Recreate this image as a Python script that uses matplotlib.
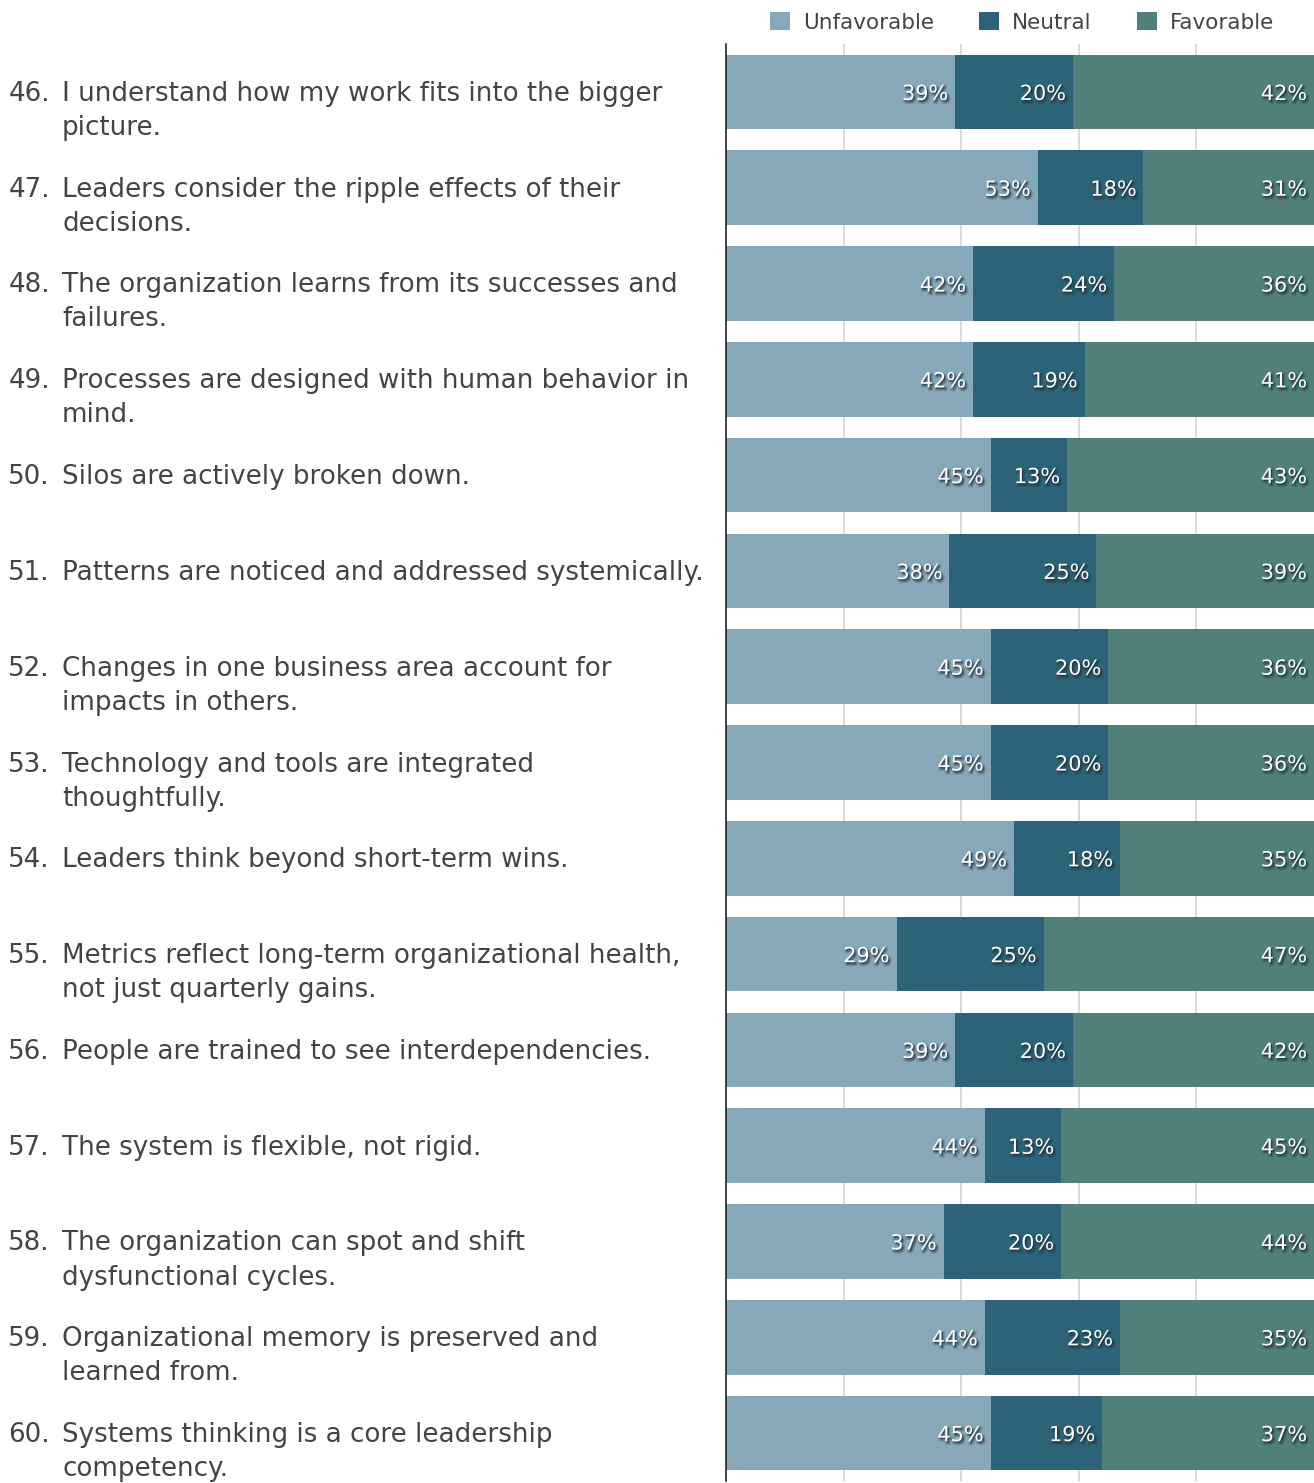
import matplotlib
matplotlib.use("Agg")
import matplotlib.pyplot as plt
import matplotlib.patheffects as pe
from matplotlib.transforms import blended_transform_factory
from matplotlib.patches import Patch

plt.rcParams['font.family'] = ['DejaVu Sans']

numbers = ["46.", "47.", "48.", "49.", "50.", "51.", "52.", "53.", "54.", "55.",
           "56.", "57.", "58.", "59.", "60."]
statements = [
    ["I understand how my work fits into the bigger", "picture."],
    ["Leaders consider the ripple effects of their", "decisions."],
    ["The organization learns from its successes and", "failures."],
    ["Processes are designed with human behavior in", "mind."],
    ["Silos are actively broken down."],
    ["Patterns are noticed and addressed systemically."],
    ["Changes in one business area account for", "impacts in others."],
    ["Technology and tools are integrated", "thoughtfully."],
    ["Leaders think beyond short-term wins."],
    ["Metrics reflect long-term organizational health,", "not just quarterly gains."],
    ["People are trained to see interdependencies."],
    ["The system is flexible, not rigid."],
    ["The organization can spot and shift", "dysfunctional cycles."],
    ["Organizational memory is preserved and", "learned from."],
    ["Systems thinking is a core leadership", "competency."],
]
unfavorable = [39, 53, 42, 42, 45, 38, 45, 45, 49, 29, 39, 44, 37, 44, 45]
neutral = [20, 18, 24, 19, 13, 25, 20, 20, 18, 25, 20, 13, 20, 23, 19]
favorable = [42, 31, 36, 41, 43, 39, 36, 36, 35, 47, 42, 45, 44, 35, 37]

series = ["Unfavorable", "Neutral", "Favorable"]
colors = ["#87A8B8", "#2D6378", "#517F7B"]

W, H = 1314, 1483
fig = plt.figure(figsize=(W / 100, H / 100), dpi=100)
ax = fig.add_axes([726 / W, 2 / H, 588 / W, 1437 / H])

n = len(numbers)
ys = list(range(n))

# soft dark drop shadow behind the white value labels
shadow = "#0b1c24"
label_fx = [
    pe.SimplePatchShadow(offset=(1.5, -2.0), shadow_rgbFace=shadow, alpha=0.25),
    pe.Stroke(linewidth=2.5, foreground=shadow, alpha=0.18, offset=(1.2, -1.5)),
    pe.SimplePatchShadow(offset=(1.0, -1.2), shadow_rgbFace=shadow, alpha=0.55),
    pe.Normal(),
]

left = [0] * n
for vals, col in zip([unfavorable, neutral, favorable], colors):
    ax.barh(ys, vals, left=left, height=0.78, color=col, zorder=2)
    for i, v in enumerate(vals):
        end = min(left[i] + v, 100)
        ax.annotate(f"{v}%", xy=(end, i), xytext=(-5, -5.8), textcoords="offset points",
                    ha="right", va="baseline", color="white", fontsize=15,
                    path_effects=label_fx, zorder=3)
    left = [l + v for l, v in zip(left, vals)]

ax.set_xlim(0, 100)
ax.set_ylim(n - 0.5, -0.5)
ax.set_xticks([20, 40, 60, 80])
ax.grid(axis="x", color="#d4d4d4", linewidth=1.2, zorder=0)
ax.set_axisbelow(True)
ax.tick_params(left=False, bottom=False, labelleft=False, labelbottom=False)
for s in ["top", "right", "bottom"]:
    ax.spines[s].set_visible(False)
ax.spines["left"].set_color("#222222")
ax.spines["left"].set_linewidth(1.2)

# Statement text to the left of the bars
tr = blended_transform_factory(fig.transFigure, ax.transData)
px = n / 1437
line_step = 34 * px
for i, (num, lines) in enumerate(zip(numbers, statements)):
    ax.text(50 / W, i + 9 * px, num, transform=tr, ha="right", va="baseline",
            fontsize=18.8, color="#444444", clip_on=False)
    for k, line in enumerate(lines):
        ax.text(62 / W, i + 9 * px + k * line_step, line, transform=tr, ha="left",
                va="baseline", fontsize=18.8, color="#444444", clip_on=False)

handles = [Patch(facecolor=c, edgecolor="none") for c in colors]
fig.legend(handles, series, loc="upper right", bbox_to_anchor=(1274 / W, 1 - 12 / H),
           ncol=3, frameon=False, fontsize=15.5, handlelength=0.93, handleheight=0.93,
           handletextpad=0.6, columnspacing=2.1, borderpad=0, borderaxespad=0,
           labelcolor="#444444")

fig.savefig("out.png", dpi=100)
